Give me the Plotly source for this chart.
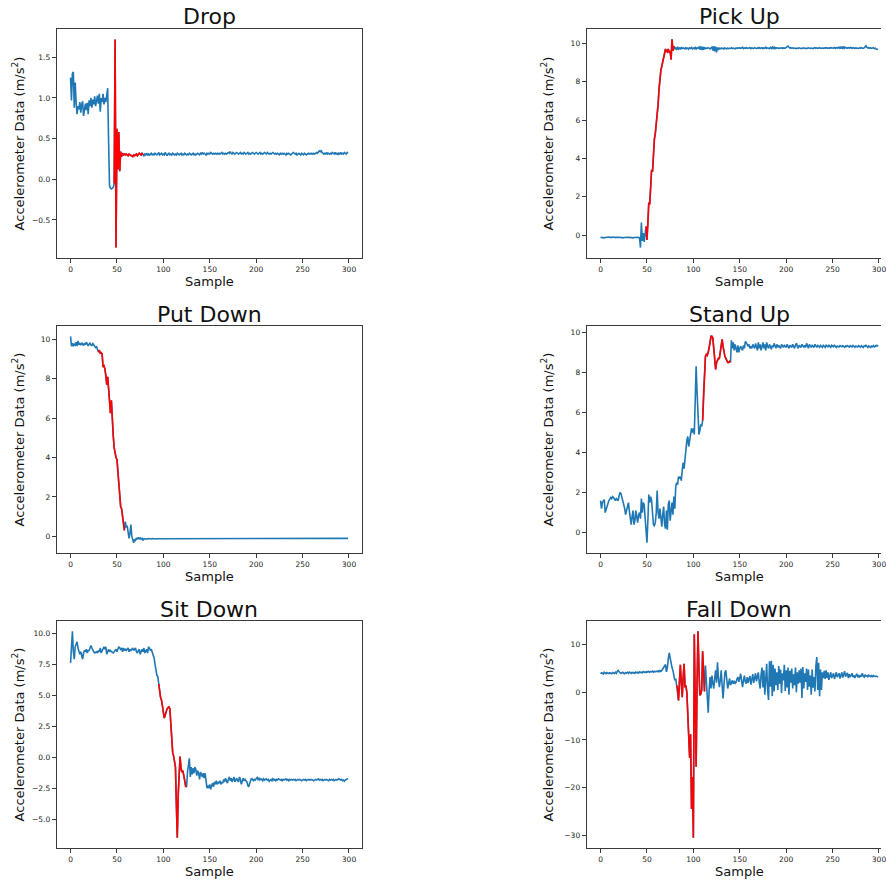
import plotly.graph_objects as go

# ---------------- data ----------------
titles = ["Drop", "Pick Up", "Put Down", "Stand Up", "Sit Down", "Fall Down"]

drop = [
    1.25, 0.97, 1.30, 1.32, 0.88, 1.19, 0.95, 0.80, 0.90, 0.86,
    0.95, 0.82, 0.92, 0.96, 0.78, 0.90, 0.93, 0.85, 0.94, 0.80,
    0.97, 0.90, 1.00, 0.88, 0.98, 0.92, 1.02, 0.90, 0.99, 1.03,
    0.93, 1.05, 0.83, 1.00, 0.95, 1.05, 0.92, 1.00, 0.95, 1.06,
    1.12, 0.45, -0.08, -0.11, -0.12, -0.11, -0.10, -0.05, 1.72, -0.84,
    0.62, 0.12, 0.58, 0.10, 0.34, 0.28, 0.32, 0.30, 0.31, 0.30,
    0.31, 0.30, 0.29, 0.31, 0.30, 0.30, 0.29, 0.28, 0.30, 0.29,
    0.30, 0.31, 0.29, 0.30, 0.32, 0.31, 0.30, 0.32, 0.30, 0.29,
    0.31, 0.30, 0.32, 0.30, 0.31, 0.29, 0.31, 0.32, 0.30, 0.31,
    0.30, 0.32, 0.31, 0.30, 0.31, 0.33, 0.30, 0.31, 0.32, 0.30,
    0.31, 0.30, 0.33, 0.31, 0.29, 0.31, 0.32, 0.30, 0.31, 0.30,
    0.32, 0.31, 0.30, 0.31, 0.30, 0.32, 0.31, 0.30, 0.31, 0.32,
    0.30, 0.31, 0.30, 0.32, 0.31, 0.30, 0.31, 0.30, 0.32, 0.31,
    0.30, 0.31, 0.32, 0.30, 0.31, 0.30, 0.31, 0.32, 0.31, 0.30,
    0.32, 0.31, 0.33, 0.31, 0.32, 0.31, 0.30, 0.32, 0.31, 0.32,
    0.31, 0.33, 0.32, 0.31, 0.32, 0.31, 0.32, 0.31, 0.32, 0.31,
    0.32, 0.31, 0.32, 0.33, 0.31, 0.32, 0.31, 0.32, 0.31, 0.32,
    0.33, 0.32, 0.34, 0.32, 0.31, 0.33, 0.32, 0.31, 0.32, 0.33,
    0.32, 0.31, 0.32, 0.33, 0.31, 0.32, 0.31, 0.33, 0.32, 0.31,
    0.32, 0.33, 0.31, 0.32, 0.31, 0.32, 0.33, 0.32, 0.31, 0.32,
    0.33, 0.32, 0.31, 0.32, 0.33, 0.31, 0.32, 0.31, 0.32, 0.33,
    0.32, 0.31, 0.33, 0.32, 0.31, 0.32, 0.31, 0.32, 0.33, 0.32,
    0.31, 0.32, 0.31, 0.32, 0.31, 0.30, 0.32, 0.31, 0.32, 0.31,
    0.32, 0.31, 0.30, 0.32, 0.31, 0.32, 0.31, 0.30, 0.31, 0.32,
    0.33, 0.32, 0.31, 0.32, 0.30, 0.31, 0.32, 0.31, 0.30, 0.32,
    0.31, 0.30, 0.32, 0.31, 0.30, 0.31, 0.32, 0.31, 0.32, 0.31,
    0.32, 0.31, 0.32, 0.31, 0.32, 0.33, 0.32, 0.34, 0.35, 0.34,
    0.35, 0.33, 0.32, 0.31, 0.32, 0.31, 0.33, 0.31, 0.32, 0.31,
    0.32, 0.31, 0.33, 0.32, 0.31, 0.33, 0.31, 0.32, 0.30, 0.32,
    0.31, 0.33, 0.31, 0.32, 0.31, 0.33, 0.32, 0.31, 0.33, 0.32,
]
drop_red = (47, 78)

pick_up = [
    -0.12, -0.13, -0.11, -0.12, -0.14, -0.12, -0.11, -0.13, -0.12, -0.10,
    -0.12, -0.13, -0.11, -0.12, -0.10, -0.12, -0.13, -0.11, -0.12, -0.14,
    -0.12, -0.11, -0.13, -0.12, -0.14, -0.12, -0.11, -0.13, -0.12, -0.10,
    -0.11, -0.12, -0.13, -0.11, -0.12, -0.14, -0.12, -0.11, -0.12, -0.13,
    -0.11, -0.13, -0.12, -0.65, 0.65, -0.30, 0.10, -0.35, 0.20, 0.45,
    -0.25, 0.60, 1.70, 1.60, 2.60, 3.40, 3.30, 4.30, 5.00, 5.30,
    5.70, 6.10, 6.80, 7.60, 8.20, 8.60, 8.80, 9.00, 9.20, 9.40,
    9.70, 9.60, 9.55, 9.70, 9.50, 9.60, 9.15, 10.20, 9.60, 9.85,
    9.70, 9.78, 9.65, 9.82, 9.70, 9.75, 9.68, 9.80, 9.72, 9.76,
    9.74, 9.70, 9.77, 9.72, 9.75, 9.69, 9.76, 9.73, 9.78, 9.71,
    9.75, 9.72, 9.78, 9.70, 9.76, 9.74, 9.80, 9.68, 9.83, 9.65,
    9.82, 9.66, 9.79, 9.72, 9.75, 9.73, 9.77, 9.74, 9.70, 9.76,
    9.80, 9.62, 9.85, 9.58, 9.82, 9.52, 9.78, 9.65, 9.74, 9.71,
    9.75, 9.72, 9.74, 9.70, 9.76, 9.73, 9.71, 9.75, 9.72, 9.74,
    9.73, 9.76, 9.72, 9.75, 9.74, 9.71, 9.75, 9.73, 9.76, 9.74,
    9.77, 9.73, 9.75, 9.79, 9.72, 9.76, 9.74, 9.78, 9.73, 9.75,
    9.74, 9.77, 9.72, 9.76, 9.74, 9.73, 9.77, 9.75, 9.72, 9.76,
    9.74, 9.78, 9.73, 9.75, 9.77, 9.72, 9.76, 9.74, 9.79, 9.73,
    9.76, 9.74, 9.72, 9.78, 9.73, 9.80, 9.70, 9.82, 9.72, 9.77,
    9.74, 9.76, 9.73, 9.75, 9.74, 9.77, 9.73, 9.76, 9.75, 9.74,
    9.78, 9.82, 9.85, 9.79, 9.75, 9.77, 9.74, 9.76, 9.73, 9.75,
    9.74, 9.72, 9.75, 9.73, 9.76, 9.74, 9.72, 9.75, 9.73, 9.76,
    9.74, 9.72, 9.75, 9.73, 9.76, 9.74, 9.73, 9.75, 9.74, 9.72,
    9.75, 9.77, 9.74, 9.76, 9.73, 9.75, 9.77, 9.74, 9.76, 9.75,
    9.73, 9.76, 9.74, 9.77, 9.75, 9.73, 9.76, 9.74, 9.77, 9.75,
    9.76, 9.74, 9.78, 9.73, 9.77, 9.75, 9.79, 9.74, 9.80, 9.72,
    9.82, 9.70, 9.84, 9.74, 9.78, 9.76, 9.74, 9.77, 9.75, 9.78,
    9.76, 9.74, 9.77, 9.75, 9.73, 9.76, 9.74, 9.75, 9.73, 9.76,
    9.74, 9.77, 9.75, 9.73, 9.76, 9.80, 9.86, 9.78, 9.75, 9.77,
    9.74, 9.76, 9.73, 9.75, 9.77, 9.72, 9.74, 9.70, 9.68, 9.67,
]
pick_red = (49, 79)

put_down = [
    10.15, 9.65, 9.80, 9.65, 9.75, 9.70, 9.85, 9.65, 9.92, 9.72,
    9.78, 9.70, 9.82, 9.75, 9.68, 9.80, 9.72, 9.85, 9.70, 9.66,
    9.75, 9.82, 9.70, 9.68, 9.78, 9.72, 9.66, 9.58, 9.62, 9.50,
    9.35, 9.45, 9.30, 9.32, 9.25, 8.60, 8.65, 8.50, 8.20, 7.70,
    8.10, 7.60, 7.00, 6.25, 6.90, 5.80, 5.10, 4.50, 4.10, 4.00,
    3.90, 3.30, 2.80, 2.20, 1.50, 1.40, 1.00, 0.60, 0.30, 0.75,
    0.45, 0.55, 0.30, -0.10, 0.15, 0.60, 0.00, -0.20, -0.32, -0.15,
    -0.20, -0.08, -0.15, -0.05, -0.12, -0.08, -0.14, -0.10, -0.20, -0.12,
    -0.13, -0.11, -0.12, -0.13, -0.11, -0.12, -0.12, -0.13, -0.11, -0.12,
    -0.12, -0.11, -0.13, -0.12, -0.12, -0.11, -0.13, -0.12, -0.11, -0.12,
    -0.13, -0.12, -0.11, -0.12, -0.13, -0.12, -0.11, -0.12, -0.12, -0.13,
    -0.12, -0.11, -0.12, -0.13, -0.12, -0.11, -0.12, -0.12, -0.13, -0.12,
    -0.11, -0.12, -0.13, -0.12, -0.11, -0.12, -0.13, -0.12, -0.12, -0.11,
    -0.12, -0.13, -0.12, -0.11, -0.12, -0.12, -0.13, -0.12, -0.11, -0.12,
    -0.12, -0.13, -0.12, -0.11, -0.12, -0.13, -0.12, -0.12, -0.11, -0.12,
    -0.13, -0.12, -0.11, -0.12, -0.12, -0.13, -0.12, -0.11, -0.12, -0.12,
    -0.12, -0.11, -0.13, -0.12, -0.12, -0.11, -0.12, -0.13, -0.12, -0.11,
    -0.12, -0.12, -0.13, -0.12, -0.11, -0.12, -0.12, -0.13, -0.12, -0.11,
    -0.12, -0.13, -0.12, -0.11, -0.12, -0.12, -0.13, -0.11, -0.12, -0.12,
    -0.10, -0.12, -0.13, -0.11, -0.12, -0.12, -0.13, -0.12, -0.11, -0.12,
    -0.12, -0.13, -0.12, -0.11, -0.12, -0.12, -0.11, -0.13, -0.12, -0.12,
    -0.11, -0.12, -0.12, -0.13, -0.12, -0.11, -0.12, -0.13, -0.12, -0.12,
    -0.12, -0.11, -0.13, -0.12, -0.12, -0.11, -0.12, -0.12, -0.13, -0.12,
    -0.11, -0.12, -0.12, -0.13, -0.12, -0.11, -0.12, -0.12, -0.13, -0.12,
    -0.12, -0.11, -0.12, -0.13, -0.12, -0.12, -0.11, -0.12, -0.13, -0.12,
    -0.12, -0.11, -0.12, -0.12, -0.13, -0.12, -0.11, -0.12, -0.12, -0.13,
    -0.12, -0.11, -0.12, -0.13, -0.12, -0.12, -0.11, -0.12, -0.12, -0.13,
    -0.12, -0.11, -0.12, -0.12, -0.13, -0.12, -0.11, -0.12, -0.13, -0.12,
    -0.11, -0.12, -0.12, -0.13, -0.12, -0.11, -0.12, -0.12, -0.13, -0.12,
    -0.12, -0.11, -0.13, -0.12, -0.12, -0.11, -0.12, -0.13, -0.11, -0.10,
]
put_red = (30, 58)

stand_up = [
    1.60, 1.20, 1.50, 1.60, 1.65, 1.00, 1.20, 1.40, 1.45, 1.60,
    1.70, 1.75, 1.70, 1.80, 1.75, 1.70, 1.60, 1.70, 1.65, 1.60,
    1.85, 2.00, 1.95, 1.70, 1.60, 1.40, 1.20, 0.90, 1.10, 1.30,
    1.50, 1.10, 0.70, 0.40, 0.80, 1.10, 0.40, 0.60, 1.10, 0.70,
    0.50, 0.90, 1.00, 0.70, 1.70, 1.00, 1.50, 1.40, 0.60, 0.40,
    -0.50, 0.60, 1.90, 1.50, 1.80, 1.60, 0.80, 0.40, 0.35, 0.50,
    1.00, 2.10, 1.00, 0.70, 1.20, 0.80, 0.30, 0.90, 1.30, 0.40,
    0.20, 1.10, 0.15, 1.40, 1.60, 0.60, 1.30, 1.50, 0.90, 1.80,
    1.20, 2.30, 2.50, 2.40, 2.80, 2.70, 2.80, 2.60, 3.10, 3.50,
    3.20, 3.80, 4.20, 4.60, 4.80, 4.30, 4.60, 4.90, 5.20, 5.00,
    5.20, 4.90, 6.30, 8.30, 7.00, 5.30, 4.90, 5.10, 5.40, 5.30,
    5.60, 7.00, 8.20, 8.80, 8.90, 8.85, 9.00, 9.20, 9.50, 9.80,
    9.80, 9.70, 9.20, 8.60, 8.15, 8.50, 8.65, 8.70, 8.70, 9.00,
    9.40, 9.65, 9.30, 8.90, 8.80, 8.70, 8.60, 8.50, 8.50, 8.55,
    8.50, 9.60, 9.20, 9.50, 9.10, 9.40, 9.20, 9.00, 9.35, 9.00,
    9.20, 9.30, 9.20, 9.10, 9.35, 9.20, 9.55, 9.50, 9.40, 9.30,
    9.40, 9.20, 9.30, 9.20, 9.40, 9.30, 9.20, 9.45, 9.30, 9.10,
    9.50, 9.20, 9.40, 9.10, 9.30, 9.50, 9.20, 9.40, 9.10, 9.50,
    9.30, 9.20, 9.40, 9.30, 9.15, 9.35, 9.25, 9.45, 9.30, 9.20,
    9.40, 9.25, 9.35, 9.30, 9.20, 9.40, 9.30, 9.25, 9.35, 9.30,
    9.25, 9.40, 9.30, 9.20, 9.35, 9.30, 9.25, 9.40, 9.30, 9.20,
    9.35, 9.45, 9.30, 9.20, 9.35, 9.30, 9.25, 9.40, 9.30, 9.25,
    9.35, 9.25, 9.45, 9.30, 9.20, 9.40, 9.30, 9.25, 9.35, 9.30,
    9.25, 9.40, 9.30, 9.25, 9.35, 9.30, 9.25, 9.35, 9.30, 9.25,
    9.35, 9.30, 9.25, 9.35, 9.30, 9.28, 9.35, 9.30, 9.25, 9.35,
    9.30, 9.28, 9.35, 9.30, 9.25, 9.32, 9.30, 9.27, 9.34, 9.30,
    9.28, 9.33, 9.30, 9.25, 9.32, 9.29, 9.34, 9.30, 9.26, 9.33,
    9.30, 9.27, 9.34, 9.29, 9.25, 9.32, 9.30, 9.27, 9.33, 9.29,
    9.26, 9.33, 9.30, 9.24, 9.32, 9.29, 9.35, 9.28, 9.25, 9.32,
    9.29, 9.24, 9.31, 9.28, 9.34, 9.27, 9.30, 9.35, 9.31, 9.36,
]
stand_red = (110, 140)

sit_down = [
    7.60, 9.00, 10.15, 8.50, 7.90, 8.90, 9.10, 9.30, 8.80, 8.60,
    8.30, 8.50, 8.20, 7.90, 8.40, 8.60, 8.50, 8.70, 8.40, 8.60,
    8.60, 8.80, 9.00, 8.80, 8.60, 8.50, 8.40, 8.50, 8.50, 8.40,
    8.60, 8.50, 8.80, 8.40, 8.60, 8.80, 8.90, 8.70, 8.90, 8.30,
    8.60, 8.70, 8.50, 8.60, 8.50, 8.40, 8.40, 8.50, 8.60, 8.70,
    8.50, 8.70, 8.90, 8.80, 8.70, 8.80, 8.50, 8.80, 8.60, 8.70,
    8.60, 8.70, 8.80, 8.50, 8.70, 8.60, 8.70, 8.80, 8.60, 8.70,
    8.80, 8.50, 8.40, 8.60, 8.70, 8.30, 8.60, 8.70, 8.50, 8.80,
    8.40, 8.60, 8.70, 8.40, 8.90, 8.80, 8.60, 8.70, 8.50, 8.30,
    8.00, 7.50, 7.00, 6.60, 6.50, 5.90, 5.20, 4.80, 4.60, 4.20,
    3.60, 3.15, 3.40, 3.70, 3.90, 4.00, 4.05, 3.90, 2.50, 1.00,
    0.40, 0.10, -0.30, -0.80, -3.80, -6.50, -3.00, -0.60, 0.05, -0.90,
    -1.20, -1.10, -1.40, -1.90, -2.35, -2.40, -1.20, -0.40, -0.10, -1.60,
    -0.80, -1.40, -0.90, -1.30, -0.80, -1.00, -1.50, -1.10, -1.30, -1.80,
    -1.20, -1.40, -1.60, -1.30, -1.70, -1.30, -2.00, -2.50, -2.30, -2.50,
    -2.20, -2.60, -2.30, -2.10, -2.40, -2.00, -2.20, -1.90, -2.20, -2.00,
    -2.10, -1.90, -2.20, -2.00, -2.10, -1.80, -2.00, -1.70, -1.90, -2.10,
    -1.80, -1.60, -1.90, -1.70, -2.00, -1.80, -1.60, -2.00, -1.80, -1.70,
    -1.90, -2.00, -1.60, -1.80, -2.20, -1.80, -1.70, -1.90, -1.80, -1.90,
    -2.00, -2.30, -2.40, -2.10, -1.90, -1.70, -1.80, -1.90, -1.80, -1.85,
    -1.75, -1.65, -1.80, -1.70, -1.85, -1.75, -1.80, -1.90, -1.75, -1.85,
    -1.80, -1.75, -1.85, -1.80, -1.95, -1.85, -1.80, -1.90, -1.75, -1.85,
    -1.80, -1.90, -1.80, -1.85, -1.75, -1.80, -1.85, -1.80, -1.90, -1.80,
    -1.85, -1.80, -1.75, -1.85, -1.80, -1.90, -1.80, -1.85, -1.80, -1.85,
    -1.80, -1.85, -1.80, -1.90, -1.85, -1.80, -1.85, -1.80, -1.85, -1.90,
    -1.85, -1.80, -1.85, -1.80, -1.90, -1.85, -1.80, -1.85, -1.80, -1.85,
    -1.80, -1.85, -1.90, -1.85, -1.80, -1.85, -1.80, -1.75, -1.85, -1.80,
    -1.85, -1.80, -1.90, -1.85, -1.80, -1.85, -1.80, -1.85, -1.90, -1.80,
    -1.85, -1.80, -1.85, -1.80, -1.90, -1.85, -1.80, -1.85, -1.80, -1.75,
    -1.80, -1.85, -1.80, -1.90, -1.85, -1.95, -1.85, -1.80, -1.75, -1.78,
]
sit_red = (95, 125)

fall_down = [
    3.90, 4.10, 4.00, 3.85, 4.20, 4.00, 3.90, 4.15, 4.05, 3.95,
    4.10, 4.00, 3.90, 4.15, 4.05, 3.95, 4.20, 4.00, 4.40, 4.60,
    4.30, 4.00, 3.95, 4.10, 4.20, 4.00, 3.90, 4.15, 4.05, 4.20,
    4.00, 4.25, 4.10, 3.95, 4.20, 4.05, 4.15, 4.00, 4.25, 4.10,
    4.20, 4.05, 4.30, 4.15, 4.25, 4.10, 4.35, 4.20, 4.30, 4.15,
    4.35, 4.25, 4.40, 4.20, 4.35, 4.30, 4.45, 4.25, 4.40, 4.30,
    4.45, 4.35, 4.50, 4.30, 4.55, 4.40, 4.60, 4.80, 5.20, 5.60,
    5.80, 4.30, 5.20, 7.00, 8.30, 7.20, 6.00, 5.20, 4.60, 3.50,
    2.50, 2.90, 1.50, 0.80, -1.70, 2.50, 5.80, 2.00, -1.00, 3.00,
    6.00, 1.20, 1.30, 0.00, -4.40, -8.60, -13.80, -8.80, -24.50, -17.80,
    -30.50, 12.20, -2.00, -15.60, 2.00, 12.80, 5.00, -0.60, -0.40, 0.50,
    8.60, 2.00, 0.20, 5.60, 1.50, -2.50, -4.30, 0.50, 3.20, 0.80,
    3.50, 2.00, 0.80, 3.00, 4.60, 2.00, 6.30, 3.00, 1.10, 2.50,
    4.60, 1.50, -1.30, 1.50, 4.20, 4.60, 2.50, 0.80, 1.80, 2.90,
    1.50, 2.20, 2.50, 1.80, 2.40, 1.90, 2.10, 2.80, 3.20, 2.20,
    3.00, 3.90, 2.40, 1.10, 2.50, 3.50, 2.20, 1.80, 3.20, 2.00,
    2.80, 3.40, 1.60, 2.50, 3.80, 2.00, 3.00, 4.00, 2.30, 3.50,
    4.20, 2.10, 0.80, 3.80, 5.20, 1.00, 4.60, -0.50, 3.00, 6.00,
    0.50, -1.60, 6.50, 1.20, 6.60, -0.80, 5.80, 0.20, 5.00, 1.50,
    4.20, 0.50, 5.50, 1.80, 4.80, -0.20, 4.00, 2.50, 5.80, 0.30,
    4.60, 1.00, 5.20, -0.50, 4.50, 2.00, 5.00, 0.80, 3.80, 1.50,
    5.20, 0.00, 4.20, 1.80, 4.60, 2.00, 5.00, -1.20, 5.30, 0.80,
    4.00, 2.20, 5.00, 0.50, 4.80, 1.20, 3.50, -0.50, 4.80, 1.00,
    3.20, 0.20, 5.50, 7.40, 0.50, 6.20, -0.80, 4.80, 0.50, 4.20,
    3.00, 4.50, 2.80, 4.60, 3.00, 4.20, 2.60, 3.80, 4.20, 3.00,
    3.60, 4.00, 2.80, 3.80, 4.20, 3.20, 3.50, 4.00, 2.90, 3.60,
    4.20, 3.10, 3.90, 4.40, 3.30, 3.70, 4.10, 3.00, 3.80, 3.20,
    3.50, 4.00, 3.20, 3.60, 3.00, 3.70, 3.90, 3.30, 3.50, 3.10,
    3.60, 3.30, 4.00, 3.40, 3.20, 3.70, 3.40, 3.50, 3.20, 3.60,
    3.40, 3.30, 3.60, 3.20, 3.50, 3.40, 3.30, 3.40, 3.30, 3.20,
]
fall_red = (82, 112)

y_dticks = [0.5, 2, 2, 2, 2.5, 10]
y_formats = [".1f", "", "", "", ".1f", ""]

# ---------------- layout ----------------
W, H = 886, 880
series = [drop, pick_up, put_down, stand_up, sit_down, fall_down]
reds = [drop_red, pick_red, put_red, stand_red, sit_red, fall_red]

col_px = [(57, 364), (590, 886)]
row_px = [(29, 258), (326, 553), (621, 848)]

n = len(drop)
xpad = 0.05 * (n - 1)
x_lo, x_hi = -xpad, (n - 1) + xpad
units_per_px = (x_hi - x_lo) / (col_px[0][1] - col_px[0][0])

BLUE = "#1f77b4"
RED = "#ff0000"
AX = "#3a3a3a"
FONT = "DejaVu Sans"

fig = go.Figure()
layout = dict(
    width=W, height=H,
    margin=dict(l=0, r=0, t=0, b=0),
    paper_bgcolor="white", plot_bgcolor="white",
    showlegend=False,
    font=dict(family=FONT, color="#222"),
)
annotations = []

for i, (vals, (rs, re_)) in enumerate(zip(series, reds)):
    k = i + 1
    row, col = divmod(i, 2)
    xs = list(range(n))
    fig.add_trace(go.Scatter(x=xs, y=vals, mode="lines",
                             line=dict(color=BLUE, width=1.6),
                             xaxis=f"x{k}", yaxis=f"y{k}", hoverinfo="skip"))
    fig.add_trace(go.Scatter(x=xs[rs:re_ + 1], y=vals[rs:re_ + 1], mode="lines",
                             line=dict(color=RED, width=1.6),
                             xaxis=f"x{k}", yaxis=f"y{k}", hoverinfo="skip"))

    cx0, cx1 = col_px[col]
    ry0, ry1 = row_px[row]
    xr_hi = x_lo + (cx1 - cx0) * units_per_px
    ymin, ymax = min(vals), max(vals)
    ypad = 0.05 * (ymax - ymin)

    common = dict(showgrid=False, zeroline=False, showline=True, linecolor=AX,
                  linewidth=1, ticks="outside", ticklen=4, tickwidth=1,
                  tickcolor=AX, ticklabeloverflow="allow",
                  tickfont=dict(size=7.5, family=FONT, color="#222"))
    layout[f"xaxis{k}"] = dict(domain=[cx0 / W, cx1 / W], anchor=f"y{k}",
                               range=[x_lo, xr_hi], tick0=0, dtick=50,
                               mirror=True, **common)
    yax = dict(domain=[1 - ry1 / H, 1 - ry0 / H], anchor=f"x{k}",
               range=[ymin - ypad, ymax + ypad], tick0=0, dtick=y_dticks[i],
               mirror=(col == 0), **common)
    if y_formats[i]:
        yax["tickformat"] = y_formats[i]
    layout[f"yaxis{k}"] = yax

    full_x1 = cx0 + (x_hi - x_lo) / units_per_px
    cx_mid = (cx0 + full_x1) / 2
    # subplot title
    annotations.append(dict(text=titles[i], x=cx_mid / W, y=1 - (ry0 - 12) / H,
                            xref="paper", yref="paper", showarrow=False,
                            xanchor="center", yanchor="middle",
                            font=dict(size=22, family=FONT, color="#111")))
    # x title
    annotations.append(dict(text="Sample", x=cx_mid / W, y=1 - (ry1 + 23) / H,
                            xref="paper", yref="paper", showarrow=False,
                            xanchor="center", yanchor="middle",
                            font=dict(size=13, family=FONT, color="#111")))
    # y title
    ytx = 18 if col == 0 else 550
    annotations.append(dict(text="Accelerometer Data (m/s<sup>2</sup>)",
                            x=ytx / W, y=1 - ((ry0 + ry1) / 2) / H,
                            xref="paper", yref="paper", showarrow=False,
                            xanchor="center", yanchor="middle", textangle=-90,
                            font=dict(size=13, family=FONT, color="#111")))

layout["annotations"] = annotations
fig.update_layout(**layout)
fig.write_html("out.html",
               config={"displayModeBar": False, "staticPlot": True},
               post_script="document.body.style.margin='0';document.body.style.overflow='hidden';")
